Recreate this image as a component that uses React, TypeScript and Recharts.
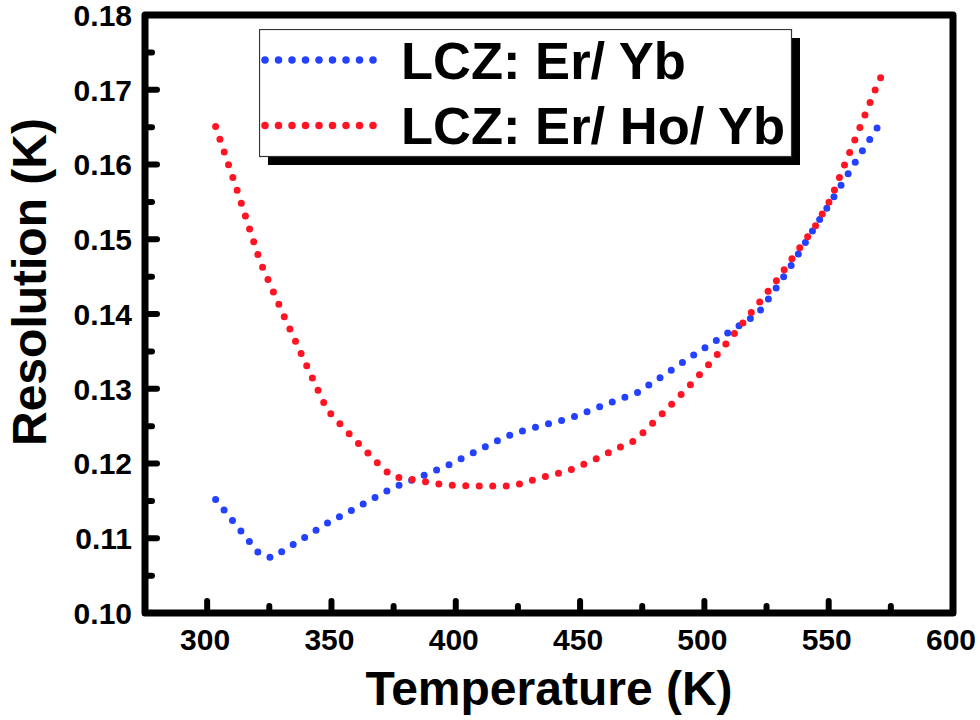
import React from "react";
import { Label, Legend, Line, LineChart, ReferenceArea, XAxis, YAxis } from "recharts";

// values
const erYbTemps = [
  303.4, 312.3, 321, 326, 336.8, 347.7, 358.5, 369.4, 374.9, 385.6, 396.5,
  407.5, 418.3, 424, 434.8, 445.6, 456.4, 467.4, 472.7, 483.6, 494.3, 505.4,
  516.2, 521.7, 529.1, 536.1, 542.9, 549.7, 556.4, 563.1, 570.1,
];
const erYbRes = [
  0.1152, 0.1115, 0.1079, 0.1074, 0.1096, 0.1119, 0.1138, 0.1158, 0.1168,
  0.1182, 0.1197, 0.1215, 0.1233, 0.1241, 0.1251, 0.126, 0.1274, 0.1288,
  0.1294, 0.1318, 0.1342, 0.1366, 0.1389, 0.1401, 0.1436, 0.1471, 0.1508,
  0.1544, 0.158, 0.1616, 0.1652,
];
const erHoYbTemps = [
  303.4, 312.5, 321.3, 330.8, 340.7, 348.2, 353.4, 358.5, 369, 374.2, 385.1,
  396.1, 406.8, 417.8, 423.2, 434.1, 445, 455.7, 466.7, 472.2, 482.6, 493.2,
  503, 511.9, 520.8, 529.1, 536.9, 544.7, 550.9, 555.2, 559.8, 564.2, 568.6,
  571,
];
const erHoYbRes = [
  0.1651, 0.1561, 0.147, 0.1398, 0.1326, 0.1272, 0.1253, 0.1235, 0.1199,
  0.1183, 0.1177, 0.1171, 0.117, 0.117, 0.117, 0.1181, 0.119, 0.1205, 0.1223,
  0.1231, 0.1265, 0.1301, 0.1337, 0.1373, 0.141, 0.1445, 0.1482, 0.1518,
  0.1554, 0.159, 0.1627, 0.1663, 0.1699, 0.1717,
];

const seriesNames = ["LCZ: Er/ Yb", "LCZ: Er/ Ho/ Yb"];
const seriesColors = ["#2341ff", "#ff1424"];

const xTicks = [300, 325, 350, 375, 400, 425, 450, 475, 500, 525, 550, 575, 600];
const yTicks = [
  0.1, 0.105, 0.11, 0.115, 0.12, 0.125, 0.13, 0.135, 0.14, 0.145, 0.15, 0.155,
  0.16, 0.165, 0.17, 0.175, 0.18,
];

const erYbData = erYbTemps.map((t, i) => ({ t, r: erYbRes[i] }));
const erHoYbData = erHoYbTemps.map((t, i) => ({ t, r: erHoYbRes[i] }));

const FONT = '"Liberation Sans", Arial, sans-serif';

function XTick(props: any) {
  const { x, y, payload } = props;
  const major = payload.value % 50 === 0;
  return (
    <g>
      <line x1={x} x2={x} y1={y} y2={y - (major ? 12 : 7)} stroke="#000" strokeWidth={6} strokeLinecap="round" />
      {major ? (
        <text x={x - 2} y={y + 37} textAnchor="middle" fontFamily={FONT} fontWeight="bold" fontSize={30} fill="#000">
          {payload.value}
        </text>
      ) : null}
    </g>
  );
}

function YTick(props: any) {
  const { x, y, payload } = props;
  const major = Math.round(payload.value * 1000) % 10 === 0;
  return (
    <g>
      <line x1={x} x2={x + (major ? 12 : 7)} y1={y} y2={y} stroke="#000" strokeWidth={6} strokeLinecap="round" />
      {major ? (
        <text x={x - 13} y={y} dy="0.36em" textAnchor="end" fontFamily={FONT} fontWeight="bold" fontSize={30} fill="#000">
          {payload.value.toFixed(2)}
        </text>
      ) : null}
    </g>
  );
}

function LegendBox() {
  const rows = [
    { dotY: 31, textY: 50 },
    { dotY: 96.5, textY: 114.5 },
  ];
  return (
    <svg width={545} height={140} style={{ display: "block" }}>
      <rect x={9} y={9} width={532} height={127} fill="#000" />
      <rect x={0.5} y={0.5} width={532} height={127} fill="#fff" stroke="#333" strokeWidth={1.2} />
      {rows.map((row, i) => (
        <g key={seriesNames[i]}>
          <line x1={6} x2={115} y1={row.dotY} y2={row.dotY} stroke={seriesColors[i]} strokeWidth={7.5} strokeLinecap="round" strokeDasharray="0 13.5" />
          <text x={142} y={row.textY} fontFamily={FONT} fontWeight="bold" fontSize={52.5} fill="#000">
            {seriesNames[i]}
          </text>
        </g>
      ))}
    </svg>
  );
}

export default function App() {
  return (
    <div style={{ position: "absolute", left: 0, top: 0, width: 980, height: 720, background: "#fff" }}>
      <LineChart width={980} height={720} margin={{ top: 15, right: 27, bottom: 0, left: 0 }}>
        <XAxis
          dataKey="t"
          type="number"
          domain={[275, 600]}
          ticks={xTicks}
          interval={0}
          allowDataOverflow
          height={107}
          tickSize={0}
          tickMargin={0}
          tickLine={false}
          axisLine={false}
          tick={<XTick />}
        >
          <Label
            content={() => (
              <text x={549} y={705} textAnchor="middle" fontFamily={FONT} fontWeight="bold" fontSize={48} fill="#000">
                Temperature (K)
              </text>
            )}
          />
        </XAxis>
        <YAxis
          dataKey="r"
          type="number"
          domain={[0.1, 0.18]}
          ticks={yTicks}
          interval={0}
          allowDataOverflow
          width={145}
          tickSize={0}
          tickMargin={0}
          tickLine={false}
          axisLine={false}
          tick={<YTick />}
        >
          <Label
            content={() => (
              <text
                transform="translate(46,282) rotate(-90)"
                textAnchor="middle"
                fontFamily={FONT}
                fontWeight="bold"
                fontSize={48}
                fill="#000"
              >
                Resolution (K)
              </text>
            )}
          />
        </YAxis>
        <ReferenceArea
          x1={275}
          x2={600}
          y1={0.1}
          y2={0.18}
          fill="none"
          fillOpacity={0}
          stroke="#000"
          strokeWidth={7}
          strokeOpacity={1}
          strokeLinejoin="round"
          ifOverflow="visible"
        />
        <Legend
          layout="horizontal"
          verticalAlign="middle"
          align="center"
          content={() => <LegendBox />}
          wrapperStyle={{ position: "absolute", left: 259, top: 29, width: 545, height: 140 }}
        />
        <Line
          data={erYbData}
          dataKey="r"
          name={seriesNames[0]}
          type="linear"
          stroke={seriesColors[0]}
          strokeWidth={7}
          strokeLinecap="round"
          strokeDasharray="0 13.5"
          dot={false}
          activeDot={false}
          isAnimationActive={false}
        />
        <Line
          data={erHoYbData}
          dataKey="r"
          name={seriesNames[1]}
          type="linear"
          stroke={seriesColors[1]}
          strokeWidth={7}
          strokeLinecap="round"
          strokeDasharray="0 13.5"
          dot={false}
          activeDot={false}
          isAnimationActive={false}
        />
      </LineChart>
    </div>
  );
}
